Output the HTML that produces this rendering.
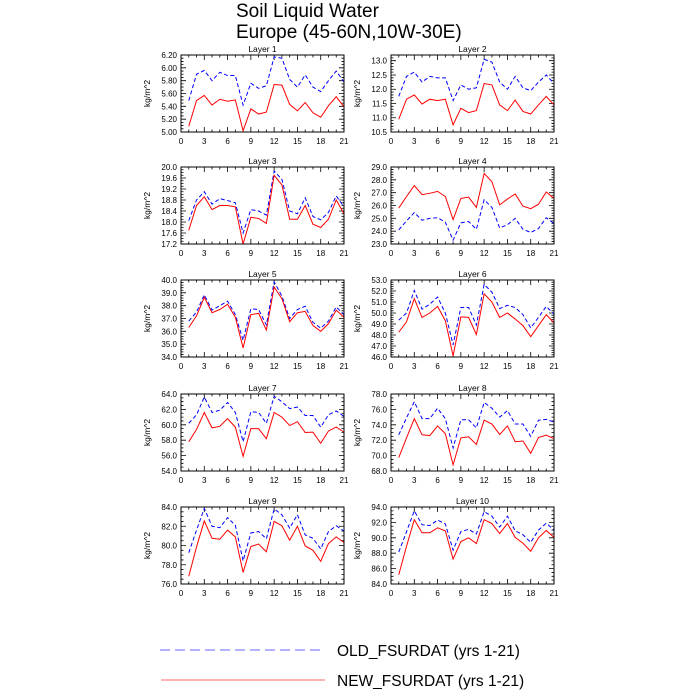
<!DOCTYPE html>
<html><head><meta charset="utf-8"><style>
body{margin:0;background:#fff;}
svg{display:block;font-family:"Liberation Sans",sans-serif;}
</style></head><body>
<svg id="chart" width="700" height="700" viewBox="0 0 700 700" xmlns="http://www.w3.org/2000/svg">
<text x="236" y="17" font-size="19">Soil Liquid Water</text>
<text x="236" y="38" font-size="19">Europe (45-60N,10W-30E)</text>
<g id="panels"></g>
<g>
<line x1="160" y1="650" x2="320" y2="650" stroke="#6666ff" stroke-width="1" stroke-dasharray="10,5"/>
<text x="337" y="656" font-size="15.5">OLD_FSURDAT (yrs 1-21)</text>
<line x1="161" y1="680" x2="325" y2="680" stroke="#ff6666" stroke-width="1"/>
<text x="337" y="686" font-size="15.5">NEW_FSURDAT (yrs 1-21)</text>
</g>
</svg>
<script>
const years = [1,2,3,4,5,6,7,8,9,10,11,12,13,14,15,16,17,18,19,20,21];
const xTicks = [0,3,6,9,12,15,18,21];
const layerNames = ["Layer 1","Layer 2","Layer 3","Layer 4","Layer 5","Layer 6","Layer 7","Layer 8","Layer 9","Layer 10"];
const oldL1 = [5.49,5.90,5.96,5.80,5.93,5.88,5.88,5.42,5.76,5.68,5.72,6.17,6.15,5.82,5.70,5.89,5.70,5.63,5.80,5.95,5.78];
const newL1 = [5.09,5.49,5.57,5.42,5.51,5.48,5.50,5.02,5.36,5.28,5.31,5.74,5.73,5.43,5.33,5.46,5.30,5.23,5.41,5.55,5.39];
const oldL2 = [11.75,12.45,12.6,12.25,12.45,12.4,12.4,11.6,12.15,12.0,12.05,13.05,12.95,12.25,12.0,12.45,12.05,11.95,12.25,12.5,12.2];
const newL2 = [10.95,11.65,11.8,11.48,11.65,11.6,11.65,10.75,11.33,11.18,11.25,12.2,12.15,11.45,11.25,11.62,11.22,11.13,11.45,11.75,11.45];
const oldL3 = [18.05,18.8,19.1,18.65,18.85,18.78,18.7,17.6,18.45,18.4,18.25,19.85,19.55,18.4,18.3,18.88,18.2,18.08,18.35,18.95,18.55];
const newL3 = [17.7,18.6,18.92,18.45,18.6,18.6,18.55,17.2,18.17,18.13,17.95,19.7,19.35,18.1,18.1,18.6,17.92,17.8,18.1,18.8,18.3];
const oldL4 = [24.1,24.8,25.45,24.85,25.0,25.05,24.7,23.3,24.65,24.75,24.15,26.45,25.85,24.25,24.5,25.0,24.15,23.9,24.2,25.05,24.6];
const newL4 = [25.8,26.7,27.55,26.85,26.95,27.1,26.7,24.9,26.55,26.65,25.85,28.5,27.85,26.05,26.5,26.9,25.95,25.75,26.1,27.05,26.55];
const oldL5 = [36.8,37.5,38.85,37.65,38.0,38.35,37.3,35.3,37.75,37.7,36.5,39.85,38.75,37.0,37.7,37.95,36.7,36.25,36.8,37.9,37.3];
const newL5 = [36.3,37.2,38.65,37.45,37.7,38.1,37.1,34.7,37.3,37.4,36.1,39.45,38.55,36.75,37.45,37.55,36.45,36.0,36.6,37.65,37.1];
const oldL6 = [49.35,50.0,52.05,50.35,50.8,51.45,50.0,47.1,50.5,50.5,48.9,52.6,51.9,50.4,50.7,50.5,49.85,48.65,49.6,50.6,49.9];
const newL6 = [48.25,49.2,51.3,49.6,50.0,50.6,49.3,46.1,49.65,49.6,48.05,51.75,51.0,49.6,50.0,49.45,48.85,47.85,48.85,49.85,49.1];
const oldL7 = [60.2,61.3,63.6,61.6,61.9,62.9,61.6,57.8,61.7,61.6,60.2,63.7,63.0,62.1,62.3,61.2,61.2,59.7,61.3,61.8,61.1];
const newL7 = [57.8,59.4,61.6,59.6,59.8,60.8,59.7,55.9,59.5,59.5,58.2,61.6,61.0,59.9,60.4,59.0,59.05,57.6,59.2,59.7,59.05];
const oldL8 = [72.7,74.9,77.0,74.8,74.8,76.15,74.8,71.0,74.65,74.65,73.6,76.9,76.15,75.0,75.85,74.1,74.1,72.5,74.6,74.7,74.35];
const newL8 = [69.75,72.3,74.8,72.7,72.6,73.85,72.85,68.8,72.3,72.45,71.45,74.6,74.1,72.75,73.85,71.8,71.9,70.3,72.35,72.65,72.2];
const oldL9 = [79.25,81.6,83.85,82.0,81.85,82.9,82.1,78.4,81.3,81.45,80.7,83.8,83.2,81.8,83.2,81.1,80.75,79.65,81.45,82.05,81.5];
const newL9 = [76.8,79.85,82.55,80.75,80.65,81.6,80.9,77.2,79.9,80.15,79.35,82.5,82.05,80.55,82.0,79.95,79.5,78.35,80.2,80.9,80.3];
const oldL10 = [88.15,90.8,93.5,91.7,91.6,92.3,91.8,88.4,90.8,91.1,90.5,93.4,92.8,91.4,92.8,90.9,90.4,89.4,91.0,91.9,91.0];
const newL10 = [85.2,88.9,92.35,90.65,90.65,91.3,90.9,87.25,89.5,90.0,89.25,92.35,91.85,90.55,91.85,90.05,89.3,88.25,90.0,90.95,90.05];
const oldSeries = [oldL1,oldL2,oldL3,oldL4,oldL5,oldL6,oldL7,oldL8,oldL9,oldL10];
const newSeries = [newL1,newL2,newL3,newL4,newL5,newL6,newL7,newL8,newL9,newL10];
const yMin = [5.0,10.5,17.2,23.0,34.0,46.0,54.0,68.0,76.0,84.0];
const yMax = [6.2,13.2,20.0,29.0,40.0,53.0,64.0,78.0,84.0,94.0];
const yStep = [0.2,0.5,0.4,1.0,1.0,1.0,2.0,2.0,2.0,2.0];
const yMinorN = [4,5,4,5,5,5,4,4,4,4];
const yDec = [2,1,1,1,1,1,1,1,1,1];

const NS="http://www.w3.org/2000/svg";
const root=document.getElementById('panels');
function mk(tag,attrs,parent){const e=document.createElementNS(NS,tag);for(const k in attrs)e.setAttribute(k,attrs[k]);parent.appendChild(e);return e;}
const colX=[181,391], W=163, rowY=[55,167,280,394,507], H=77;

for(let i=0;i<10;i++){
  const px=colX[i%2], py=rowY[Math.floor(i/2)];
  const g=mk('g',{},root);
  
  
  const xs=v=>px+v/21*W;
  const ys=v=>py+H-(v-yMin[i])/(yMax[i]-yMin[i])*H;
  const t=mk('text',{x:px+W/2,y:py-3,'font-size':'8.5','text-anchor':'middle'},g);
  t.textContent=layerNames[i];
  
  
  const yl=mk('text',{x:0,y:0,'font-size':'8.5','text-anchor':'middle',transform:`translate(${px-31},${py+H/2}) rotate(-90)`},g);
  yl.textContent='kg/m^2';
  
  
  let d='';
  for(let x=0;x<=21;x++){const X=xs(x);const L=(x%3===0)?5:2.5;d+=`M${X},${py+H}v${-L}M${X},${py}v${L}`;}
  const nMaj=Math.round((yMax[i]-yMin[i])/yStep[i]+1e-6);
  const minor=yStep[i]/yMinorN[i];
  const nMin=Math.floor((yMax[i]-yMin[i])/minor+1e-6);
  for(let k=0;k<=nMin;k++){const Y=ys(yMin[i]+k*minor);const L=(k%yMinorN[i]===0)?5:2.5;d+=`M${px},${Y}h${L}M${px+W},${Y}h${-L}`;}
  const tk=mk('path',{d:d,stroke:'#000','stroke-width':'0.8',fill:'none'},g);
  
  
  for(let k=0;k<=nMaj;k++){
    const v=yMin[i]+k*yStep[i];
    const lb=mk('text',{x:px-4,y:ys(v)+3,'font-size':'8','text-anchor':'end'},g);
    lb.textContent=v.toFixed(yDec[i]);
    
    
  }
  xTicks.forEach(v=>{
    const lb=mk('text',{x:xs(v),y:py+H+12,'font-size':'8','text-anchor':'middle'},g);
    lb.textContent=v;
    
    
  });
  const pOld=mk('polyline',{points:years.map((yr,j)=>xs(yr)+','+ys(oldSeries[i][j])).join(' '),fill:'none',stroke:'#0000ff','stroke-width':'1','stroke-dasharray':'4,2.5'},g);
  
  
  const pNew=mk('polyline',{points:years.map((yr,j)=>xs(yr)+','+ys(newSeries[i][j])).join(' '),fill:'none',stroke:'#ff0000','stroke-width':'1'},g);
  
  
  const fr=mk('rect',{x:px,y:py,width:W,height:H,fill:'none',stroke:'#000','stroke-width':'1'},g);
  
  
}
</script>
</body></html>
